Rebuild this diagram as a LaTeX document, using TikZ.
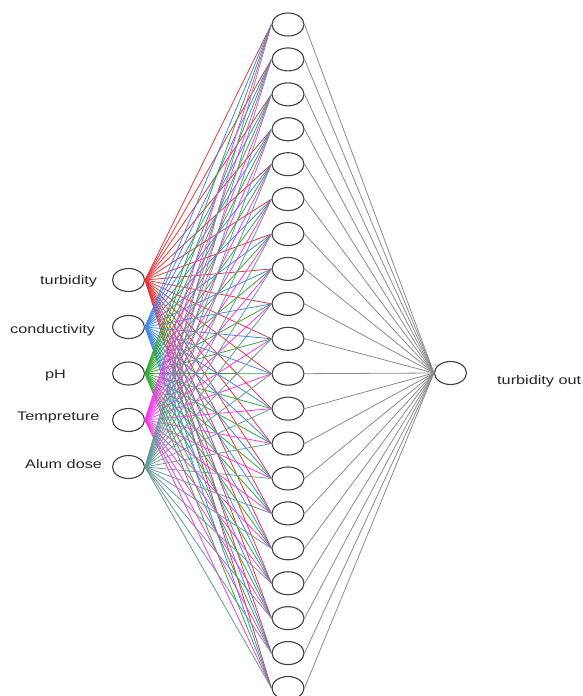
\documentclass[tikz,border=0pt]{standalone}
\usepackage{fontspec}
\setmainfont{Liberation Sans}
\newfontfamily\labfont[FakeStretch=1.3]{Liberation Sans}
\usetikzlibrary{shapes.geometric}
\definecolor{cA}{HTML}{EE3333}
\definecolor{cB}{HTML}{3F86EE}
\definecolor{cC}{HTML}{33AA33}
\definecolor{cD}{HTML}{FF33EE}
\definecolor{cE}{HTML}{669999}
\definecolor{cG}{HTML}{8C8C8C}
\begin{document}
\begin{tikzpicture}[x=1pt,y=-1pt]
\tikzset{
  neuron/.style={ellipse, draw=black!75, line width=1.1pt, minimum width=32pt, minimum height=23pt, inner sep=0pt, fill=white},
  wire/.style={line width=0.8pt},
  lab/.style={font={\labfont\fontsize{12.5}{14}\selectfont}, text=black!85, inner sep=0pt}
}
\useasboundingbox (0,0) rectangle (582,696);
\foreach \j in {1,...,20} \node[neuron] (h\j) at (288, {24.5+34.92*(\j-1)}) {};
\foreach \k/\y in {1/280,2/327,3/373.5,4/420,5/467} \node[neuron] (i\k) at (128.5,\y) {};
\node[neuron] (o) at (450.5,373) {};
\foreach \k/\c in {1/cA,2/cB,3/cC,4/cD,5/cE}
  \foreach \j in {1,...,20} \draw[wire,\c] (i\k.east) -- (h\j.west);
\foreach \j in {1,...,20} \draw[wire,cG] (h\j.east) -- (o.west);
\node[lab, anchor=base west] (l1) at (40,284) {turbidity};
\node[lab, anchor=base west] (l2) at (10,333) {conductivity};
\node[lab, anchor=base west] (l3) at (45,378) {pH};
\node[lab, anchor=base west] (l4) at (17,420) {Tempreture};
\node[lab, anchor=base west] (l5) at (25,468) {Alum dose};
\node[lab, anchor=base west] (lo) at (497,384) {turbidity out};
\end{tikzpicture}
\end{document}
